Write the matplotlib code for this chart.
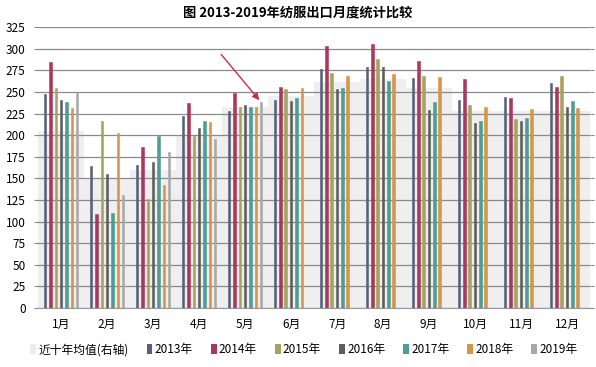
import matplotlib
matplotlib.use('Agg')
import matplotlib.pyplot as plt
import numpy as np
from matplotlib.patches import Patch

plt.rcParams['font.family'] = ['Noto Sans CJK SC', 'DejaVu Sans']

# 月份
months = ['1月', '2月', '3月', '4月', '5月', '6月', '7月', '8月', '9月', '10月', '11月', '12月']

# 各年数据 (2019年只到5月)
y2013 = [248, 164, 166, 222, 228, 241, 276, 279, 266, 241, 244, 260]
y2014 = [285, 109, 186, 237, 249, 256, 303, 305, 286, 265, 243, 256]
y2015 = [255, 216, 126, 199, 233, 253, 272, 288, 268, 235, 219, 268]
y2016 = [241, 155, 169, 208, 235, 240, 253, 279, 229, 214, 216, 233]
y2017 = [238, 110, 199, 216, 233, 243, 254, 263, 238, 216, 220, 239]
y2018 = [231, 203, 142, 215, 233, 254, 268, 271, 267, 232, 230, 231]
y2019 = [249, 131, 181, 195, 238]

# 近十年均值(右轴) - 背景
avg10 = [205, 150, 160, 200, 232, 245, 262, 265, 255, 228, 228, 228]

years = ['2013年', '2014年', '2015年', '2016年', '2017年', '2018年', '2019年']
series = [y2013, y2014, y2015, y2016, y2017, y2018, y2019]
colors = ['#56607a', '#a8385c', '#a6a35e', '#5c5c5c', '#4e9c94', '#d69548', '#a8a8a8']

fig = plt.figure(figsize=(5.96, 3.67), dpi=100)
ax = fig.add_axes([0.064, 0.161, 0.926, 0.765])

x = np.arange(len(months))

# 背景面积
ax.bar(x, avg10, width=1.0, color='#efefef', zorder=0, linewidth=0)

slot = 0.116
bw = 0.055
for i, (vals, c) in enumerate(zip(series, colors)):
    pos = x[:len(vals)] + (i - 3) * slot
    ax.bar(pos, vals, width=bw, color=c, edgecolor=c, linewidth=0.4, zorder=3)

# 箭头指向2019年5月
ax.annotate('', xy=(4 + 3 * slot, y2019[4]), xytext=(-30, 36),
            textcoords='offset points',
            arrowprops=dict(arrowstyle='-|>', color='#c8304a', lw=1.0,
                            mutation_scale=10))

ax.set_xlim(-0.5, len(months) - 0.5)
ax.set_ylim(0, 325)
ax.set_yticks(np.arange(0, 326, 25))
ax.set_xticks(x)
ax.set_xticklabels(months, fontsize=8.5)
ax.tick_params(axis='y', labelsize=8.5, length=3, color='#888888', right=True,
               labelright=False, pad=6)
ax.tick_params(axis='x', length=0, pad=7)
ax.yaxis.grid(True, color='#8a8a8a', linewidth=0.9, zorder=1)
ax.set_axisbelow(False)
for line in ax.get_ygridlines():
    line.set_zorder(1)
for s in ['top', 'right', 'left']:
    ax.spines[s].set_visible(False)
ax.spines['bottom'].set_color('#999999')
ax.spines['bottom'].set_zorder(4)

fig.suptitle('图 2013-2019年纺服出口月度统计比较', fontsize=9.5, fontweight='bold',
             x=0.5, y=0.985)

handles = [Patch(facecolor='#ececec', edgecolor='none', label='近十年均值(右轴)')]
handles += [Patch(facecolor=c, edgecolor='none', label=l) for c, l in zip(colors, years)]
fig.legend(handles=handles, loc='lower center', bbox_to_anchor=(0.51, 0.0), ncol=8,
           frameon=False, fontsize=8.5, handlelength=0.5, handleheight=0.9,
           handletextpad=0.2, columnspacing=1.5)

fig.savefig('out.png', dpi=100)
